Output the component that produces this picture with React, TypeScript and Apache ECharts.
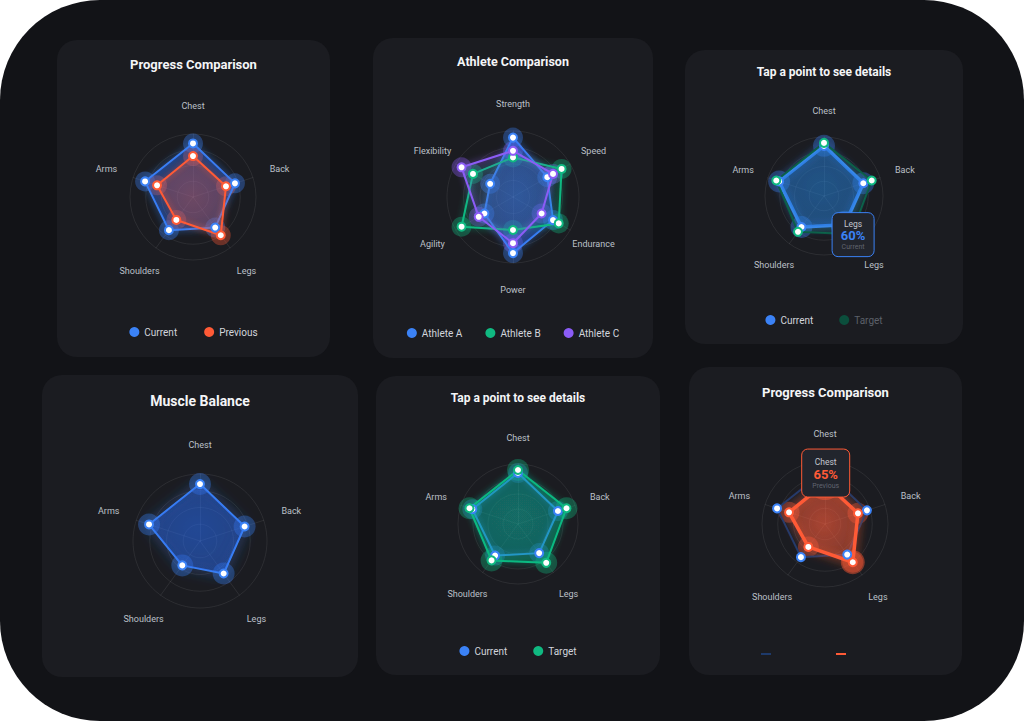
import React, { useEffect, useRef } from "react";
import * as echarts from "echarts";

// ---------------- data ----------------
const bodyParts = ["Chest", "Back", "Legs", "Shoulders", "Arms"]; // clockwise from top
const currentValues = [85, 70, 60, 65, 80];
const previousValues = [65, 55, 75, 45, 60];
const targetValues = [90, 85, 80, 75, 85];
const balanceValues = [85, 70, 60, 45, 80];
const athleteSkills = ["Strength", "Speed", "Endurance", "Power", "Agility", "Flexibility"];
const athleteA = [90, 60, 70, 85, 50, 40];
const athleteB = [60, 85, 80, 50, 90, 70];
const athleteC = [70, 70, 50, 70, 60, 90];
const scaleMax = 100;

const BLUE = "#3b82f6";
const DEEP_BLUE = "#2563eb";
const ORANGE = "#ff5a36";
const GREEN = "#10b981";
const PURPLE = "#8b5cf6";

// ECharts lays indicators out counter-clockwise; the reference goes clockwise.
function ccw(arr: any[]) {
  return [arr[0], ...arr.slice(1).reverse()];
}
function ccwIndex(i: number, n: number) {
  return i === 0 ? 0 : n - i;
}
function rgba(hex: string, a: number) {
  const h = hex.replace("#", "");
  const r = parseInt(h.slice(0, 2), 16);
  const g = parseInt(h.slice(2, 4), 16);
  const b = parseInt(h.slice(4, 6), 16);
  return `rgba(${r},${g},${b},${a})`;
}

function polygon(name: string, values: number[], color: string, o: any = {}) {
  const fillBase = o.areaColor ?? color;
  const areaStyle: any = {
    color: new echarts.graphic.RadialGradient(0.5, 0.5, 0.65, [
      { offset: 0, color: rgba(fillBase, o.a0 ?? 0.35) },
      { offset: 1, color: rgba(fillBase, o.a1 ?? 0.18) },
    ]),
  };
  if (o.areaGlow) {
    areaStyle.shadowBlur = o.areaGlow;
    areaStyle.shadowColor = rgba(color, 0.45);
  }
  return {
    type: "radar",
    name,
    z: 3,
    symbol: "circle",
    symbolSize: 8,
    itemStyle: { color: "#ffffff", borderColor: o.pointColor ?? color, borderWidth: 2 },
    lineStyle: {
      color: o.lineColor ?? color,
      width: o.width ?? 2,
      shadowBlur: o.glow ?? 6,
      shadowColor: rgba(color, o.glowA ?? 0.7),
    },
    areaStyle,
    emphasis: { disabled: true },
    data: [{ name, value: ccw(values) }],
  };
}

function halos(name: string, values: number[], color: string, a = 0.35, size = 20) {
  return {
    type: "radar",
    name: name + " halo",
    z: 2,
    silent: true,
    symbol: "circle",
    symbolSize: size,
    itemStyle: { color: rgba(color, a) },
    lineStyle: { opacity: 0, width: 0 },
    emphasis: { disabled: true },
    data: [{ name: name + " halo", value: ccw(values) }],
  };
}

function legendItem(name: string, color: string, textColor?: string) {
  const item: any = { name, itemStyle: { color, borderWidth: 0 } };
  if (textColor) item.textStyle = { color: textColor };
  return item;
}

type CardDef = {
  left: number;
  top: number;
  width: number;
  height: number;
  title: string;
  titleSize: number;
  titleY: number;
  names: string[];
  cx: number;
  cy: number;
  r: number;
  gap: number;
  series: any[];
  legend?: any;
  tip?: { values: number[]; part: string; series: string; color: string; dx: number; dy: number; w: number; h: number };
  spots?: { values: number[]; part: string; color: string; r: number; a: number }[];
};

const cards: CardDef[] = [
  {
    left: 57, top: 40, width: 273, height: 317,
    title: "Progress Comparison", titleSize: 13, titleY: 24.5,
    names: bodyParts, cx: 136, cy: 157, r: 63, gap: 28,
    series: [
      halos("Current", currentValues, BLUE),
      halos("Previous", previousValues, ORANGE),
      polygon("Current", currentValues, BLUE, { areaColor: DEEP_BLUE, a0: 0.5, a1: 0.38, areaGlow: 10 }),
      polygon("Previous", previousValues, ORANGE, { a0: 0.48, a1: 0.32 }),
    ],
    legend: { y: 292, gap: 27, data: [legendItem("Current", BLUE), legendItem("Previous", ORANGE)] },
  },
  {
    left: 373, top: 38, width: 280, height: 320,
    title: "Athlete Comparison", titleSize: 12.5, titleY: 23,
    names: athleteSkills, cx: 140, cy: 159, r: 66, gap: 27,
    series: [
      halos("Athlete A", athleteA, BLUE),
      halos("Athlete B", athleteB, GREEN),
      halos("Athlete C", athleteC, PURPLE),
      polygon("Athlete A", athleteA, BLUE, { areaColor: DEEP_BLUE, a0: 0.6, a1: 0.4, areaGlow: 10 }),
      polygon("Athlete B", athleteB, GREEN, { a0: 0.22, a1: 0.15 }),
      polygon("Athlete C", athleteC, PURPLE, { a0: 0.22, a1: 0.15 }),
    ],
    legend: {
      y: 295,
      gap: 23,
      data: [legendItem("Athlete A", BLUE), legendItem("Athlete B", GREEN), legendItem("Athlete C", PURPLE)],
    },
  },
  {
    left: 685, top: 50, width: 278, height: 294,
    title: "Tap a point to see details", titleSize: 12, titleY: 22,
    names: bodyParts, cx: 139, cy: 146, r: 59, gap: 26,
    series: [
      halos("Current", currentValues, BLUE, 0.35, 22),
      polygon("Current", currentValues, BLUE, { areaColor: DEEP_BLUE, width: 3.5, a0: 0.55, a1: 0.45, glow: 8, areaGlow: 10 }),
      polygon("Target", targetValues, GREEN, { lineColor: "#0c5a45", a0: 0.2, a1: 0.14, glow: 0 }),
    ],
    legend: {
      y: 270,
      gap: 26,
      data: [legendItem("Current", BLUE), legendItem("Target", "#0b4e3c", "#5c6069")],
    },
    tip: { values: currentValues, part: "Legs", series: "Current", color: BLUE, dx: -12.7, dy: -12, w: 42, h: 44 },
    spots: [{ values: currentValues, part: "Legs", color: BLUE, r: 14, a: 0.45 }],
  },
  {
    left: 42, top: 375, width: 316, height: 302,
    title: "Muscle Balance", titleSize: 14, titleY: 26,
    names: bodyParts, cx: 158, cy: 166, r: 67, gap: 29,
    series: [
      halos("Current", balanceValues, BLUE, 0.35, 22),
      polygon("Current", balanceValues, BLUE, { areaColor: DEEP_BLUE, a0: 0.65, a1: 0.52, glow: 12, areaGlow: 16 }),
    ],
  },
  {
    left: 376, top: 376, width: 284, height: 299,
    title: "Tap a point to see details", titleSize: 12, titleY: 22,
    names: bodyParts, cx: 142, cy: 148, r: 60, gap: 26,
    series: [
      halos("Current", currentValues, BLUE, 0.3),
      halos("Target", targetValues, GREEN, 0.35, 22),
      polygon("Current", currentValues, BLUE, { areaColor: DEEP_BLUE, a0: 0.32, a1: 0.25 }),
      polygon("Target", targetValues, GREEN, { a0: 0.5, a1: 0.38, areaGlow: 10 }),
    ],
    legend: { y: 275, gap: 26, data: [legendItem("Current", BLUE), legendItem("Target", GREEN)] },
  },
  {
    left: 689, top: 367, width: 273, height: 308,
    title: "Progress Comparison", titleSize: 13, titleY: 25,
    names: bodyParts, cx: 136, cy: 157, r: 63, gap: 27,
    series: [
      halos("Previous", previousValues, ORANGE, 0.35, 21),
      polygon("Current", currentValues, BLUE, { lineColor: "#1e3a6b", a0: 0.06, a1: 0.04, glow: 0 }),
      polygon("Previous", previousValues, ORANGE, { width: 3.5, a0: 0.72, a1: 0.45, glow: 10, areaGlow: 14 }),
    ],
    legend: {
      y: 287,
      lines: true,
      data: [legendItem("Current", "#1e3a6b"), legendItem("Previous", ORANGE)],
    },
    tip: { values: previousValues, part: "Chest", series: "Previous", color: ORANGE, dx: -23.3, dy: -34, w: 48, h: 48 },
    spots: [
      { values: previousValues, part: "Chest", color: ORANGE, r: 17, a: 0.45 },
      { values: previousValues, part: "Legs", color: ORANGE, r: 12, a: 0.45 },
    ],
  },
];

function buildOption(c: CardDef) {
  const option: any = {
    animation: false,
    textStyle: { fontFamily: "Roboto, 'Noto Sans', sans-serif" },
    title: {
      text: c.title,
      left: "center",
      top: c.titleY - c.titleSize / 2,
      padding: 0,
      textStyle: { color: "#f4f5f7", fontSize: c.titleSize, fontWeight: "bold" },
    },
    radar: {
      center: [c.cx, c.cy],
      radius: c.r,
      startAngle: 90,
      splitNumber: 4,
      shape: "circle",
      nameGap: c.gap,
      indicator: ccw(c.names).map((n: string) => ({ name: n, min: 0, max: scaleMax })),
      axisName: { color: "#bcc0c8", fontSize: 9, align: "center", verticalAlign: "middle" },
      splitLine: { lineStyle: { color: "rgba(255,255,255,0.08)", width: 1 } },
      splitArea: { show: false },
      axisLine: { lineStyle: { color: "rgba(255,255,255,0.08)", width: 1 } },
      axisTick: { show: false },
      axisLabel: { show: false },
    },
    series: c.series,
  };
  if (c.legend) {
    const lines = !!c.legend.lines;
    option.legend = {
      top: lines ? c.legend.y - 1 : c.legend.y - 5,
      left: lines ? 72 : "center",
      padding: 0,
      selectedMode: false,
      icon: lines ? "rect" : "circle",
      itemWidth: 10,
      itemHeight: lines ? 2 : 10,
      itemGap: lines ? 65 : c.legend.gap,
      textStyle: { color: "#d2d5dc", fontSize: 10 },
      formatter: lines ? () => "" : "{name}",
      data: c.legend.data,
    };
  }
  return option;
}

function pointOf(chart: any, c: CardDef, values: number[], part: string): number[] {
  const i = c.names.indexOf(part);
  const n = c.names.length;
  const idx = ccwIndex(i, n);
  const v = values[i];
  try {
    const cs = chart.getModel().getComponent("radar", 0).coordinateSystem;
    const p = cs.dataToPoint(v, idx);
    if (p && isFinite(p[0]) && isFinite(p[1])) return [p[0], p[1]];
  } catch (e) {
    /* fall through */
  }
  const ang = Math.PI / 2 + (2 * Math.PI * idx) / n;
  const d = (c.r * v) / scaleMax;
  return [c.cx + d * Math.cos(ang), c.cy - d * Math.sin(ang)];
}

function RadarCard({ c }: { c: CardDef }) {
  const ref = useRef<HTMLDivElement>(null);
  useEffect(() => {
    if (!ref.current) return;
    const chart = echarts.init(ref.current, null, { renderer: "svg" });
    chart.setOption(buildOption(c));
    const graphic: any[] = [];
    (c.spots || []).forEach((s) => {
      const p = pointOf(chart, c, s.values, s.part);
      graphic.push({
        type: "circle",
        z: 2,
        silent: true,
        shape: { cx: p[0], cy: p[1], r: s.r },
        style: { fill: rgba(s.color, s.a) },
      });
    });
    if (c.tip) {
      const t = c.tip;
      const p = pointOf(chart, c, t.values, t.part);
      const x0 = p[0] + t.dx;
      const y0 = p[1] + t.dy;
      const v = t.values[c.names.indexOf(t.part)];
      graphic.push({
        type: "group",
        z: 100,
        silent: true,
        children: [
          {
            type: "rect",
            z: 100,
            shape: { x: x0, y: y0, width: t.w, height: t.h, r: 6 },
            style: { fill: "#22252d", stroke: t.color, lineWidth: 1 },
          },
          {
            type: "text",
            z: 101,
            x: x0 + t.w / 2,
            y: y0 + t.h * 0.26,
            style: { text: t.part, fill: "#c3c6ce", font: "8.5px Roboto", align: "center", verticalAlign: "middle" },
          },
          {
            type: "text",
            z: 101,
            x: x0 + t.w / 2,
            y: y0 + t.h * 0.53,
            style: { text: `${v}%`, fill: t.color, font: "bold 13px Roboto", align: "center", verticalAlign: "middle" },
          },
          {
            type: "text",
            z: 101,
            x: x0 + t.w / 2,
            y: y0 + t.h * 0.78,
            style: { text: t.series, fill: "#60646f", font: "7px Roboto", align: "center", verticalAlign: "middle" },
          },
        ],
      });
    }
    if (graphic.length) chart.setOption({ graphic });
    return () => chart.dispose();
  }, []);
  return (
    <div
      style={{
        position: "absolute",
        left: c.left,
        top: c.top,
        width: c.width,
        height: c.height,
        background: "#1b1c21",
        borderRadius: 20,
        overflow: "hidden",
      }}
    >
      <div ref={ref} style={{ width: c.width, height: c.height }} />
    </div>
  );
}

export default function App() {
  return (
    <div
      style={{
        position: "fixed",
        left: 0,
        top: 0,
        width: 1024,
        height: 721,
        background: "#121317",
        borderRadius: 100,
        overflow: "hidden",
        fontFamily: "Roboto, sans-serif",
      }}
    >
      {cards.map((c, i) => (
        <RadarCard key={i} c={c} />
      ))}
    </div>
  );
}
